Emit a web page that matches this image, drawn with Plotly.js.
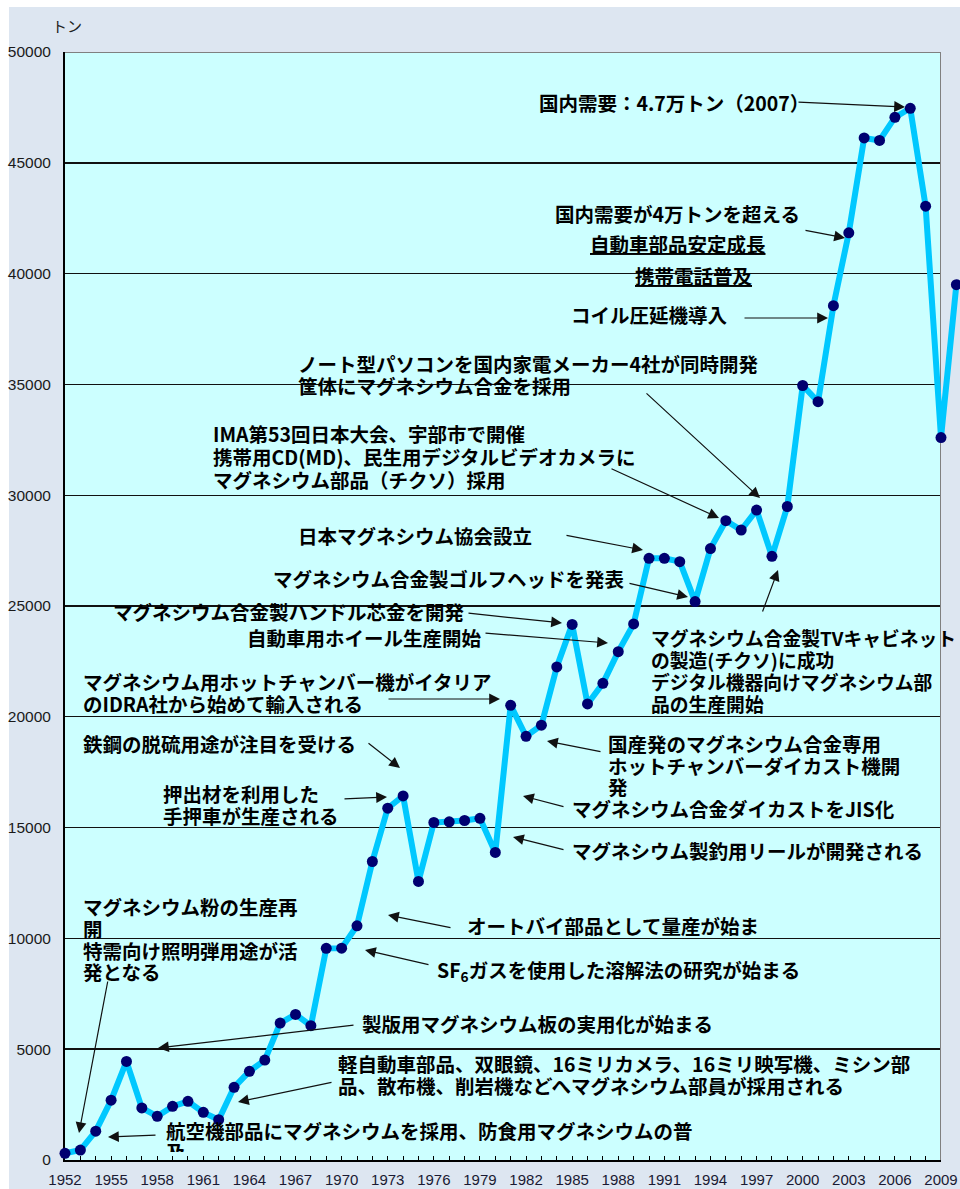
<!DOCTYPE html>
<html>
<head>
<meta charset="utf-8">
<script src="https://cdn.plot.ly/plotly-3.0.1.min.js"></script>
<style>html,body{margin:0;padding:0;background:#fff;}#chart{width:960px;height:1189px;}</style>
</head>
<body>
<div id="chart"></div>
<script>
// ---- data ----
const years = [1952,1953,1954,1955,1956,1957,1958,1959,1960,1961,1962,1963,1964,1965,1966,1967,1968,1969,1970,1971,1972,1973,1974,1975,1976,1977,1978,1979,1980,1981,1982,1983,1984,1985,1986,1987,1988,1989,1990,1991,1992,1993,1994,1995,1996,1997,1998,1999,2000,2001,2002,2003,2004,2005,2006,2007,2008,2009,2010];
const demand = [300,450,1300,2700,4450,2350,1970,2420,2650,2150,1820,3280,4000,4510,6180,6570,6060,9550,9560,10570,13470,15875,16430,12570,15230,15260,15320,15420,13880,20520,19120,19620,22250,24170,20580,21510,22940,24190,27150,27150,27000,25200,27590,28850,28430,29330,27240,29490,34950,34220,38550,41840,46120,46010,47050,47460,43040,32600,39500];
const yTicks = [0,5000,10000,15000,20000,25000,30000,35000,40000,45000,50000];
const unitLabel = 'トン';

// ---- layout geometry ----
const W = 960, H = 1189;
const L = 65, R = 0, T = 52, B = 29;
const PW = W - L - R;          // full plotting width (overflow area included)
const PW_MAIN = 876;           // width of the 1952-2009 axis
const PH = H - T - B;
const X0 = 1952, X1 = 2009, YMAX = 50000;
const pxPerYear = PW_MAIN / (X1 - X0);
function dx(px){ return X0 + (px - L) / pxPerYear; }
function dy(py){ return (T + PH - py) * YMAX / PH; }
function ppx(px){ return (px - L) / PW; }
function ppy(py){ return (T + PH - py) / PH; }

const FONT = '"Noto Sans CJK JP", "Noto Sans", sans-serif';
const FS = 19.5;

// text lines: [text, left px, center py, font size]
const noteLines = [
  ['国内需要：4.7万トン（2007）', 538, 102, FS],
  ['国内需要が4万トンを超える', 554, 213, FS],
  ['<u>自動車部品安定成長</u>', 589, 243, FS],
  ['<u>携帯電話普及</u>', 634, 275, FS],
  ['コイル圧延機導入', 570, 314, FS],
  ['ノート型パソコンを国内家電メーカー4社が同時開発', 297, 363, FS],
  ['筐体にマグネシウム合金を採用', 297, 385, FS],
  ['IMA第53回日本大会、宇部市で開催', 212, 433, FS],
  ['携帯用CD(MD)、民生用デジタルビデオカメラに', 212, 456, FS],
  ['マグネシウム部品（チクソ）採用', 212, 479, FS],
  ['日本マグネシウム協会設立', 297, 535, FS],
  ['マグネシウム合金製ゴルフヘッドを発表', 272, 578, FS],
  ['マグネシウム合金製ハンドル芯金を開発', 112, 611, FS],
  ['自動車用ホイール生産開始', 246, 637, FS],
  ['マグネシウム用ホットチャンバー機がイタリア', 82, 681, FS],
  ['のIDRA社から始めて輸入される', 82, 703, FS],
  ['鉄鋼の脱硫用途が注目を受ける', 82, 743, FS],
  ['押出材を利用した', 162, 793, FS],
  ['手押車が生産される', 162, 815, FS],
  ['国産発のマグネシウム合金専用', 607, 743, FS],
  ['ホットチャンバーダイカスト機開', 607, 765, FS],
  ['発', 607, 786, FS],
  ['マグネシウム合金ダイカストをJIS化', 571, 808, FS],
  ['マグネシウム製釣用リールが開発される', 571, 850, FS],
  ['マグネシウム合金製TVキャビネット', 650, 637, 18.8],
  ['の製造(チクソ)に成功', 650, 659, 18.8],
  ['デジタル機器向けマグネシウム部', 650, 681, 18.8],
  ['品の生産開始', 650, 703, 18.8],
  ['マグネシウム粉の生産再', 82, 906, FS],
  ['開', 82, 928, FS],
  ['特需向け照明弾用途が活', 82, 950, FS],
  ['発となる', 82, 971, FS],
  ['オートバイ部品として量産が始ま', 466, 925, FS],
  ['SF<sub>6</sub>ガスを使用した溶解法の研究が始まる', 436, 970, FS],
  ['製版用マグネシウム板の実用化が始まる', 361, 1023, FS],
  ['軽自動車部品、双眼鏡、16ミリカメラ、16ミリ映写機、ミシン部', 337, 1063, FS],
  ['品、散布機、削岩機などへマグネシウム部員が採用される', 337, 1085, FS],
  ['航空機部品にマグネシウムを採用、防食用マグネシウムの普', 165, 1130, FS]
];

// arrows: [tail px, tail py, tip px, tip py]
const arrows = [
  [797,102,905,107],
  [804,230,845,238],
  [743,318,828,318],
  [645,392,760,498],
  [610,468,719,518],
  [565,535,643,550],
  [628,583,688,597],
  [467,613,562,623],
  [484,633,608,643],
  [387,699,500,699],
  [367,742,400,768],
  [343,799,387,797],
  [602,752,547,741],
  [565,807,523,796],
  [565,850,513,837],
  [762,613,778,570],
  [108,980,79,1133],
  [452,928,388,915],
  [430,965,365,950],
  [355,1025,158,1048],
  [333,1082,238,1102],
  [157,1135,108,1137]
];

const annotations = [];
noteLines.forEach(function(n){
  annotations.push({
    xref:'x', yref:'y', x: dx(n[1]), y: dy(n[2]),
    xanchor:'left', yanchor:'middle', showarrow:false, text:n[0],
    font:{family:FONT, size:n[3], color:'#000', weight:700}, borderpad:0
  });
});
// clipped second line of the bottom note
annotations.push({
  xref:'x', yref:'y', x: dx(165), y: dy(1136),
  xanchor:'left', yanchor:'top', valign:'top', height:15, showarrow:false, text:'及',
  font:{family:FONT, size:FS, color:'#000', weight:700}, borderpad:0
});
arrows.forEach(function(a){
  annotations.push({
    xref:'x', yref:'y', x: dx(a[2]), y: dy(a[3]), ax: a[0]-a[2], ay: a[1]-a[3],
    text:'', showarrow:true, arrowhead:2, arrowsize:1.8, arrowwidth:1.2,
    arrowcolor:'#111', standoff:0, startstandoff:0
  });
});
annotations.push({
  xref:'paper', yref:'paper', x: ppx(50), y: ppy(25), xanchor:'left', yanchor:'middle',
  showarrow:false, text: unitLabel, font:{family:FONT, size:15, color:'#222'}
});

const shapes = [
  // textured outer background
  {type:'rect', xref:'paper', yref:'paper', x0: ppx(9), x1: ppx(960), y0: ppy(7), y1: ppy(1189),
   fillcolor:'#dde6f1', line:{width:0}, layer:'below'},
  // plot area
  {type:'rect', xref:'x', yref:'y', x0: X0, x1: X1, y0: 0, y1: YMAX,
   fillcolor:'#ccffff', line:{width:0}, layer:'below'},
  // grey top / right border
  {type:'line', xref:'x', yref:'y', x0: X0, x1: X1, y0: YMAX, y1: YMAX,
   line:{color:'#808080', width:2}, layer:'between'},
  {type:'line', xref:'x', yref:'y', x0: X1, x1: X1, y0: 0, y1: YMAX,
   line:{color:'#808080', width:2}, layer:'between'}
];

const trace = {
  type:'scatter', mode:'lines+markers', x: years, y: demand,
  xaxis:'x2', yaxis:'y2', cliponaxis:false,
  line:{color:'#00c8ff', width:6},
  marker:{color:'#000070', size:11},
  hoverinfo:'skip'
};

const layout = {
  width: W, height: H,
  margin:{l:L, r:R, t:T, b:B, pad:0},
  paper_bgcolor:'#ffffff',
  plot_bgcolor:'rgba(0,0,0,0)',
  showlegend:false,
  xaxis:{
    domain:[0, PW_MAIN/PW], range:[X0, X1], anchor:'y',
    tickmode:'linear', tick0:1952, dtick:3,
    ticks:'inside', ticklen:4, tickwidth:1, tickcolor:'#000',
    minor:{dtick:1, tick0:1952, ticks:'inside', ticklen:4, tickwidth:1, tickcolor:'#000'},
    showgrid:false, zeroline:false,
    showline:true, linecolor:'#000', linewidth:2,
    tickfont:{family:'"Liberation Sans", Arial, sans-serif', size:15, color:'#1a1a33'},
    ticklabelstandoff:5, fixedrange:true
  },
  yaxis:{
    domain:[0,1], range:[0, YMAX], anchor:'x',
    tickmode:'array', tickvals: yTicks, ticktext: yTicks.map(String),
    ticks:'', showgrid:true, gridcolor:'#111', gridwidth:1.4,
    zeroline:false, showline:true, linecolor:'#000', linewidth:2,
    tickfont:{family:'"Liberation Sans", Arial, sans-serif', size:15.5, color:'#1a1a1a'},
    ticklabelstandoff:9, fixedrange:true
  },
  xaxis2:{
    domain:[0,1], range:[X0, X0 + PW/pxPerYear], anchor:'y2',
    visible:false, fixedrange:true
  },
  yaxis2:{
    domain:[0,1], range:[0, YMAX], anchor:'x2',
    visible:false, fixedrange:true
  },
  annotations: annotations,
  shapes: shapes
};

Plotly.newPlot('chart', [trace], layout, {staticPlot:true, displayModeBar:false});
</script>
</body>
</html>
